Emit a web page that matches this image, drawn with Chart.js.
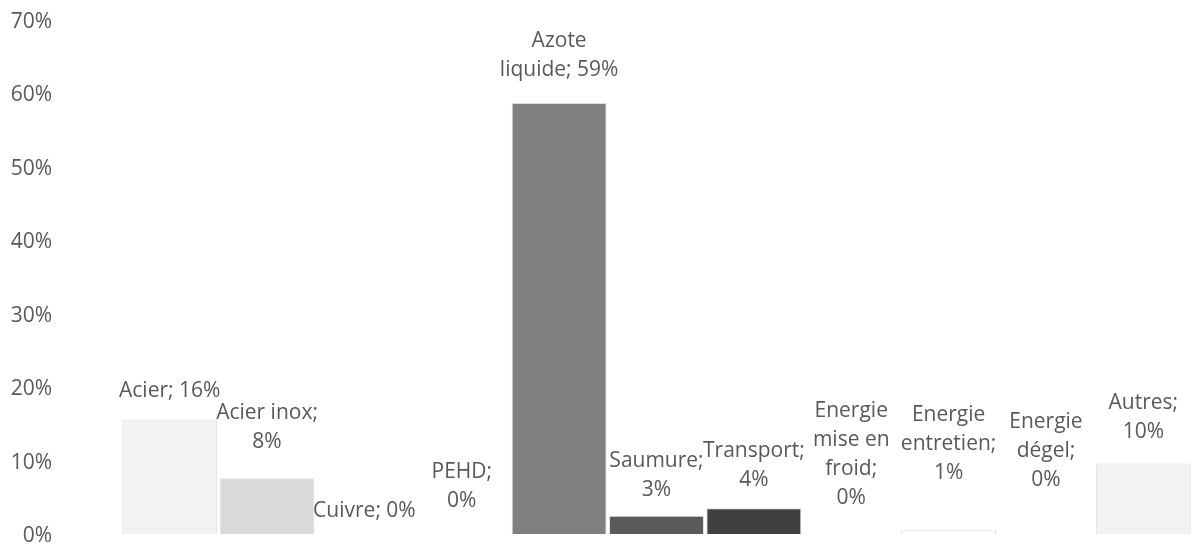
<!DOCTYPE html>
<html>
<head>
<meta charset="utf-8">
<script src="https://cdn.jsdelivr.net/npm/chart.js@4.4.1/dist/chart.umd.min.js"></script>
<style>
  html, body { margin: 0; padding: 0; background: #ffffff; overflow: hidden; }
  canvas { display: block; }
</style>
</head>
<body>
<canvas id="chart" width="1192" height="544"></canvas>
<script>
// Share of each item (%)
const categories = [
  'Acier', 'Acier inox', 'Cuivre', 'PEHD', 'Azote liquide', 'Saumure',
  'Transport', 'Energie mise en froid', 'Energie entretien', 'Energie dégel', 'Autres'
];
const shares = [15.6, 7.6, 0, 0, 58.7, 2.5, 3.5, 0, 0.5, 0, 9.6];
const yTicks = [0, 10, 20, 30, 40, 50, 60, 70];

// Styling
const barColors = ['#f2f2f2', '#d9d9d9', '#bfbfbf', '#a6a6a6', '#7f7f7f', '#595959',
                   '#404040', '#262626', '#fdfdfd', '#e6e6e6', '#f2f2f2'];
// words per line for each wrapped data label
const labelWrap = [[2], [2, 1], [2], [1, 1], [1, 2], [1, 1], [1, 1], [1, 2, 1, 1], [1, 1, 1], [1, 1, 1], [1, 1]];
// distance (px) from bar top to the centre of the last label line
const labelGap = [28, 36, 23, 33, 33, 26, 28, 36, 57, 54, 31];
const FONT = '"Open Sans", "DejaVu Sans", sans-serif';
const FONT_SIZE = 21;
const TEXT = '#595959';
const LINE_H = 29;

function labelLines(i) {
  const words = (categories[i] + '; ' + Math.round(shares[i]) + '%').split(' ');
  const lines = [];
  let k = 0;
  for (const n of labelWrap[i]) {
    lines.push(words.slice(k, k + n).join(' '));
    k += n;
  }
  if (k < words.length) lines[lines.length - 1] += ' ' + words.slice(k).join(' ');
  return lines;
}

const dataLabels = {
  id: 'dataLabels',
  afterDatasetsDraw(chart) {
    const ctx = chart.ctx;
    const meta = chart.getDatasetMeta(0);
    ctx.save();
    ctx.font = FONT_SIZE + 'px ' + FONT;
    ctx.fillStyle = TEXT;
    ctx.textAlign = 'center';
    ctx.textBaseline = 'middle';
    meta.data.forEach((bar, i) => {
      const lines = labelLines(i);
      const lastY = bar.y - labelGap[i];
      lines.forEach((t, j) => {
        ctx.fillText(t, bar.x, lastY - (lines.length - 1 - j) * LINE_H);
      });
    });
    ctx.restore();
  }
};

new Chart(document.getElementById('chart'), {
  type: 'bar',
  data: {
    labels: categories,
    datasets: [{
      data: shares,
      backgroundColor: barColors,
      borderColor: '#dedede',
      borderWidth: 1,
      barPercentage: 0.975,
      categoryPercentage: 1.0
    }]
  },
  options: {
    responsive: false,
    animation: false,
    layout: { padding: { top: 20, bottom: 10, left: 0, right: 0 } },
    plugins: { legend: { display: false }, tooltip: { enabled: false } },
    scales: {
      x: { display: false },
      y: {
        min: 0,
        max: 70,
        afterBuildTicks(scale) { scale.ticks = yTicks.map(v => ({ value: v })); },
        afterFit(scale) {
          // wide gutter on the left, but no extra vertical padding from it
          scale.width = 121;
          scale.paddingTop = 0;
          scale.paddingBottom = 0;
        },
        grid: { display: false, drawTicks: false },
        border: { display: false },
        ticks: {
          padding: 69,
          labelOffset: 2,
          color: TEXT,
          font: { family: FONT, size: FONT_SIZE, lineHeight: 1 },
          callback: v => v + '%'
        }
      }
    }
  },
  plugins: [dataLabels]
});
</script>
</body>
</html>
